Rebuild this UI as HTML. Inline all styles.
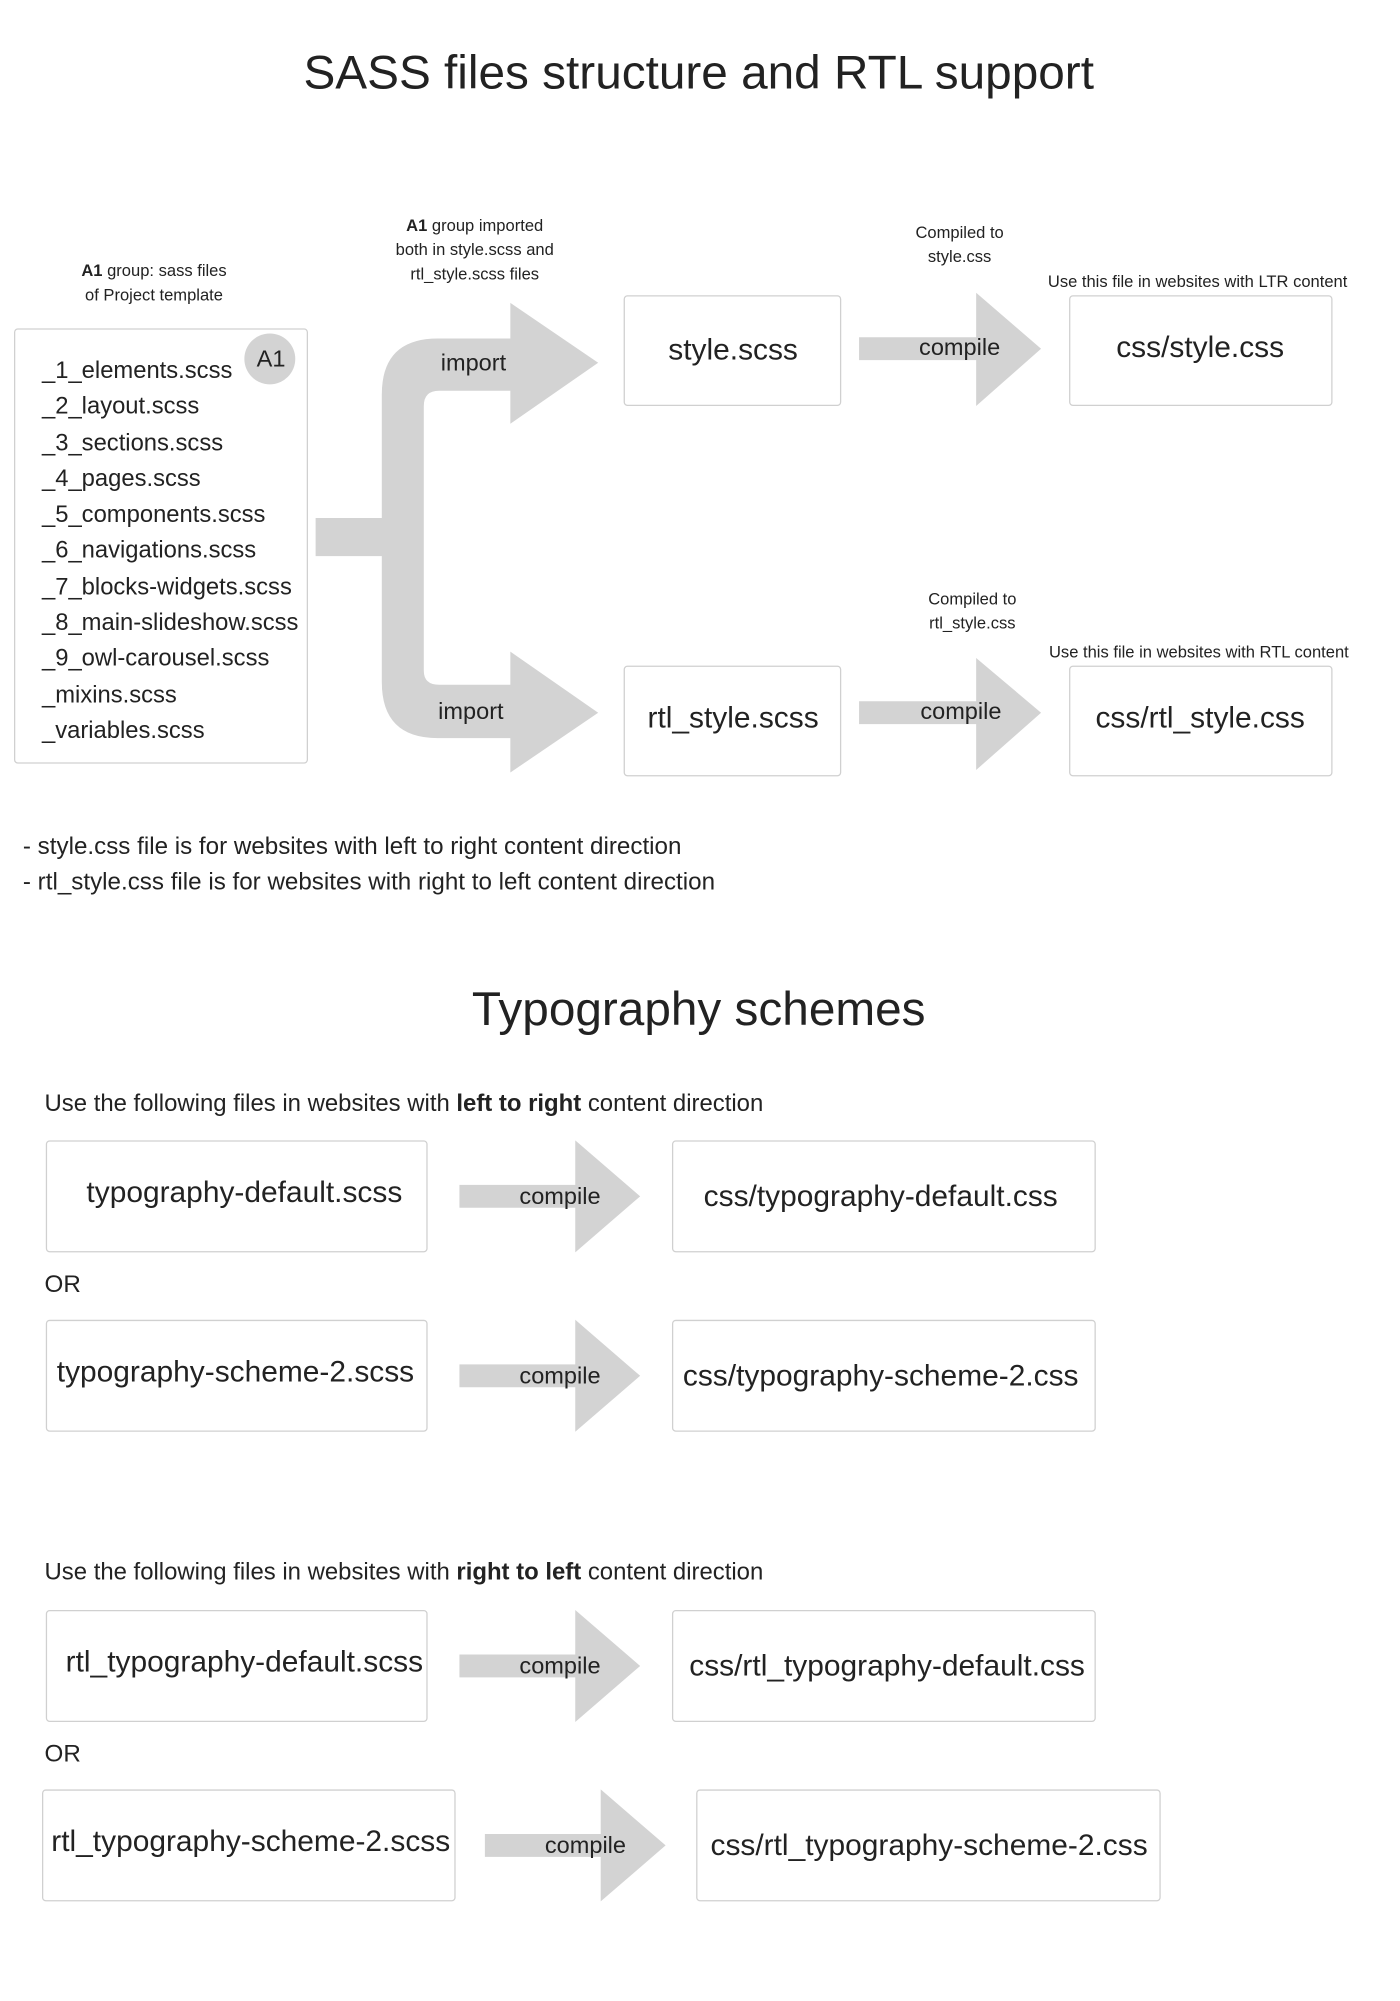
<!DOCTYPE html>
<html><head><meta charset="utf-8"><style>
html,body{margin:0;padding:0;background:#fff;}
body{width:1400px;height:2000px;overflow:hidden;position:relative;}
#w{position:absolute;left:0;top:0;width:1100px;height:1572px;transform:scale(1.2727);transform-origin:0 0;font-family:"Liberation Sans",Arial,sans-serif;color:#222;}
.c{position:absolute;transform:translate(-50%,-50%);white-space:nowrap;text-align:center;}
.l{position:absolute;white-space:nowrap;transform:translateY(-50%);}
.box{position:absolute;border:1px solid #d0d0d0;border-radius:3px;box-sizing:border-box;background:transparent;}
.s13{font-size:13px;line-height:19px;}
.s18{font-size:18.5px;}
.s19{font-size:19px;}
.s22{font-size:23.5px;}
.t{font-size:37.5px;}
svg{position:absolute;left:0;top:0;}
</style></head><body><div id="w">
<svg width="1100" height="1572">
<g fill="#d3d3d3">
<path d="M248 407 H300 V310 Q300 266 344 266 H401 V238 L470 285 L401 333 V307 H345 Q333 307 333 319 V527 Q333 538 345 538 H401 V512 L470 560 L401 607 V580 H344 Q300 580 300 536 V437 H248 Z"/>
<path d="M675 265 H767 V230 L818 274 L767 319 V283 H675 Z"/>
<path d="M675 551 H767 V517 L818 560 L767 605 V569 H675 Z"/>
<path d="M361 931 H452 V896 L503 940 L452 984 V949 H361 Z"/>
<path d="M361 1072 H452 V1037 L503 1081 L452 1125 V1090 H361 Z"/>
<path d="M361 1300 H452 V1265 L503 1309 L452 1353 V1318 H361 Z"/>
<path d="M381 1441 H472 V1406 L523 1450 L472 1494 V1459 H381 Z"/>
<circle cx="212" cy="282" r="20"/>
</g>
</svg>
<div class="c t" style="left:549px;top:57px;">SASS files structure and RTL support</div>
<div class="c s13" style="left:121px;top:222px;"><b>A1</b> group: sass files<br>of Project template</div>
<div class="box" style="left:11px;top:258px;width:231px;height:342px;"></div>
<div class="c s18" style="left:213px;top:282px;">A1</div>
<div style="position:absolute;left:33px;top:277px;line-height:28.3px;font-size:18.7px;">_1_elements.scss<br>_2_layout.scss<br>_3_sections.scss<br>_4_pages.scss<br>_5_components.scss<br>_6_navigations.scss<br>_7_blocks-widgets.scss<br>_8_main-slideshow.scss<br>_9_owl-carousel.scss<br>_mixins.scss<br>_variables.scss</div>
<div class="c s13" style="left:373px;top:196px;"><b>A1</b> group imported<br>both in style.scss and<br>rtl_style.scss files</div>
<div class="c s18" style="left:372px;top:285px;">import</div>
<div class="c s18" style="left:370px;top:559px;">import</div>
<div class="box" style="left:490px;top:232px;width:171px;height:87px;"></div>
<div class="c s22" style="left:576px;top:275px;">style.scss</div>
<div class="box" style="left:490px;top:523px;width:171px;height:87px;"></div>
<div class="c s22" style="left:576px;top:564px;">rtl_style.scss</div>
<div class="c s13" style="left:754px;top:192px;">Compiled to<br>style.css</div>
<div class="c s13" style="left:764px;top:480px;">Compiled to<br>rtl_style.css</div>
<div class="c s18" style="left:754px;top:273px;">compile</div>
<div class="c s18" style="left:755px;top:559px;">compile</div>
<div class="c s13" style="left:941px;top:221px;">Use this file in websites with LTR content</div>
<div class="c s13" style="left:942px;top:512px;">Use this file in websites with RTL content</div>
<div class="box" style="left:840px;top:232px;width:207px;height:87px;"></div>
<div class="c s22" style="left:943px;top:273px;">css/style.css</div>
<div class="box" style="left:840px;top:523px;width:207px;height:87px;"></div>
<div class="c s22" style="left:943px;top:564px;">css/rtl_style.css</div>
<div class="l s19" style="left:18px;top:666px;">- style.css file is for websites with left to right content direction</div>
<div class="l s19" style="left:18px;top:694px;">- rtl_style.css file is for websites with right to left content direction</div>
<div class="c t" style="left:549px;top:793px;">Typography schemes</div>
<div class="l" style="left:35px;top:867px;font-size:18.8px;">Use the following files in websites with <b>left to right</b> content direction</div>
<div class="box" style="left:36px;top:896px;width:300px;height:88px;"></div>
<div class="c s22" style="left:192px;top:937px;">typography-default.scss</div>
<div class="c s18" style="left:440px;top:940px;">compile</div>
<div class="box" style="left:528px;top:896px;width:333px;height:88px;"></div>
<div class="c s22" style="left:692px;top:940px;">css/typography-default.css</div>
<div class="l s19" style="left:35px;top:1010px;">OR</div>
<div class="box" style="left:36px;top:1037px;width:300px;height:88px;"></div>
<div class="c s22" style="left:185px;top:1078px;">typography-scheme-2.scss</div>
<div class="c s18" style="left:440px;top:1081px;">compile</div>
<div class="box" style="left:528px;top:1037px;width:333px;height:88px;"></div>
<div class="c s22" style="left:692px;top:1081px;">css/typography-scheme-2.css</div>
<div class="l" style="left:35px;top:1235px;font-size:18.8px;">Use the following files in websites with <b>right to left</b> content direction</div>
<div class="box" style="left:36px;top:1265px;width:300px;height:88px;"></div>
<div class="c s22" style="left:192px;top:1306px;">rtl_typography-default.scss</div>
<div class="c s18" style="left:440px;top:1309px;">compile</div>
<div class="box" style="left:528px;top:1265px;width:333px;height:88px;"></div>
<div class="c s22" style="left:697px;top:1309px;">css/rtl_typography-default.css</div>
<div class="l s19" style="left:35px;top:1379px;">OR</div>
<div class="box" style="left:33px;top:1406px;width:325px;height:88px;"></div>
<div class="c s22" style="left:197px;top:1447px;">rtl_typography-scheme-2.scss</div>
<div class="c s18" style="left:460px;top:1450px;">compile</div>
<div class="box" style="left:547px;top:1406px;width:365px;height:88px;"></div>
<div class="c s22" style="left:730px;top:1450px;">css/rtl_typography-scheme-2.css</div>
</div></body></html>
